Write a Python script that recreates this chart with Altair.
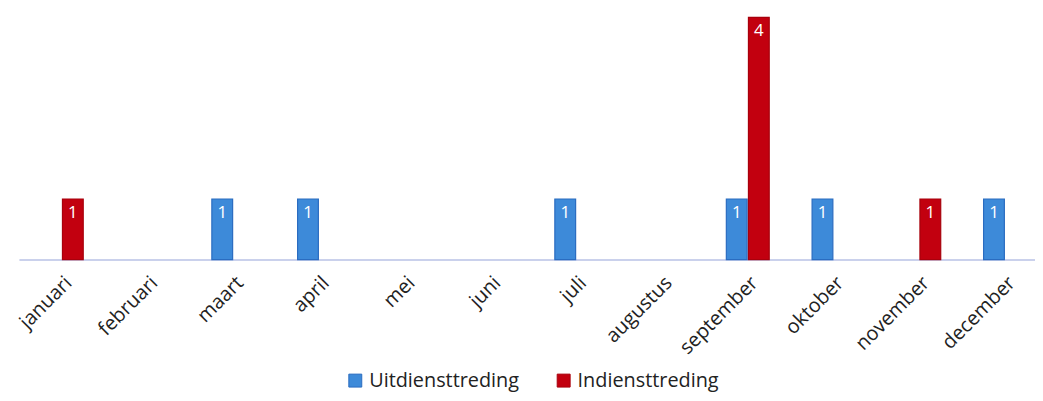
import altair as alt
import pandas as pd

months = ["januari", "februari", "maart", "april", "mei", "juni", "juli",
          "augustus", "september", "oktober", "november", "december"]
series = ["Uitdiensttreding", "Indiensttreding"]
uit = [0, 0, 1, 1, 0, 0, 1, 0, 1, 1, 0, 1]
indienst = [1, 0, 0, 0, 0, 0, 0, 0, 4, 0, 1, 0]

rows = []
for m, u, i in zip(months, uit, indienst):
    rows.append({"maand": m, "reeks": series[0], "aantal": u})
    rows.append({"maand": m, "reeks": series[1], "aantal": i})
df = pd.DataFrame(rows)
nz = df[df["aantal"] > 0]

FONT = "Open Sans"
colors = ["#3d8ad9", "#c2000f"]
strokes = ["#2a6cc0", "#a8000c"]

x = alt.X("maand:N", sort=months, title=None,
          scale=alt.Scale(domain=months, range=[0, 1037],
                          paddingInner=0.5, paddingOuter=0.25),
          axis=alt.Axis(labelAngle=-45, labelFontSize=20, labelFont=FONT,
                        labelColor="#222222", ticks=False, domainColor="#b9c2e6",
                        domainWidth=1.5, labelPadding=13, labelOverlap=False))
xo = alt.XOffset("reeks:N", sort=series,
                 scale=alt.Scale(domain=series, paddingInner=0.06))
y = alt.Y("aantal:Q", scale=alt.Scale(domain=[0, 4]), axis=None, title=None)

bars = alt.Chart(nz).mark_bar(strokeWidth=1.2).encode(
    x=x, xOffset=xo, y=y,
    color=alt.Color("reeks:N", sort=series,
                    scale=alt.Scale(domain=series, range=colors),
                    legend=alt.Legend(title=None, orient="none", direction="horizontal",
                                      legendX=329, legendY=356, symbolType="square",
                                      symbolSize=170, labelFontSize=20, labelFont=FONT,
                                      labelColor="#222222", columnPadding=34,
                                      symbolStrokeWidth=1)),
    stroke=alt.Stroke("reeks:N", sort=series,
                      scale=alt.Scale(domain=series, range=strokes), legend=None),
)

labels = alt.Chart(nz).mark_text(color="white", fontSize=17, font=FONT,
                                 baseline="top", dy=6).encode(
    x=x, xOffset=xo, y=y, text=alt.Text("aantal:Q"))

chart = (bars + labels).properties(
    width=1020, height=244,
    autosize=alt.AutoSizeParams(type="none"),
    padding={"left": 11, "top": 8, "right": 4, "bottom": 133},
).configure(background="white").configure_view(stroke=None)

chart.save("out.html", embed_options={"renderer": "svg", "actions": False})
